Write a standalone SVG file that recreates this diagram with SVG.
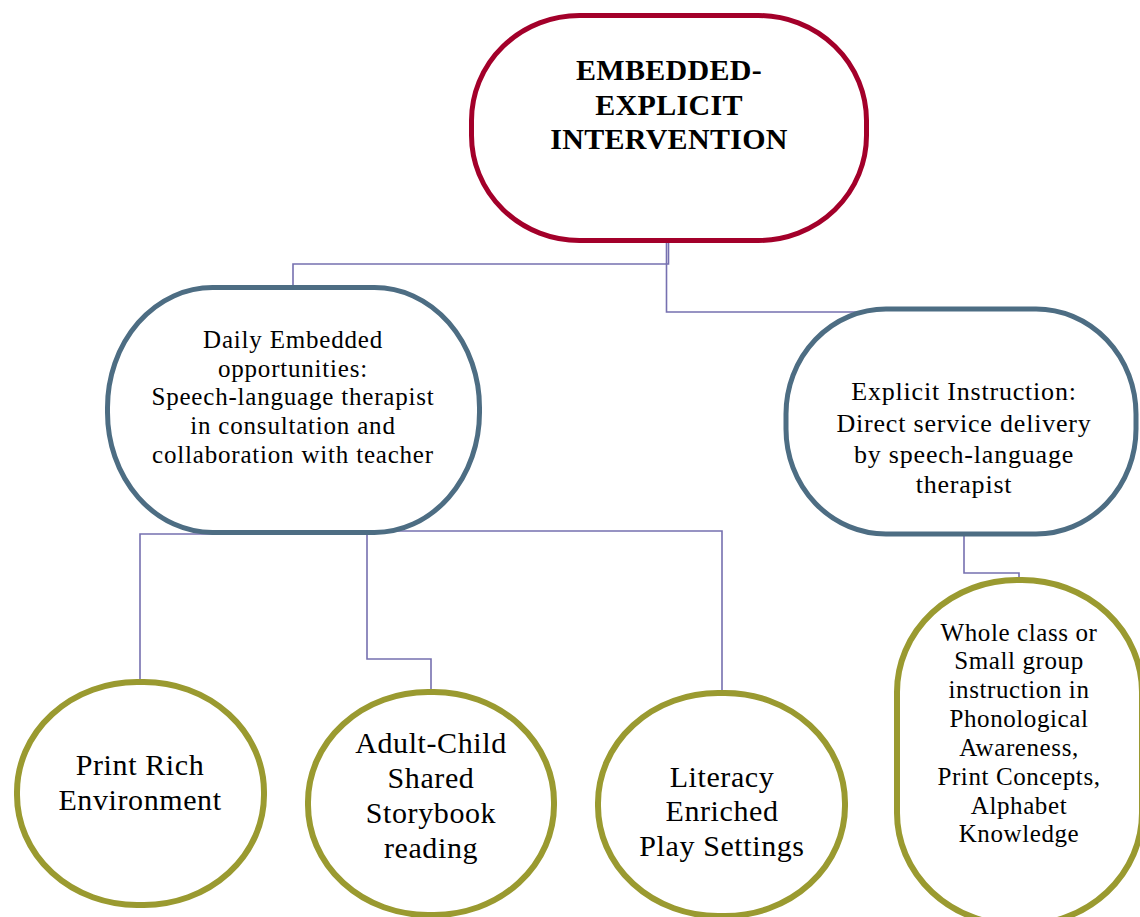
<svg xmlns="http://www.w3.org/2000/svg" width="1140" height="917" viewBox="0 0 1140 917">
  <style>
    .conn { fill: none; stroke: #7670B0; stroke-width: 1.6; }
    .root { fill: #ffffff; stroke: #A3002A; stroke-width: 5; }
    .mid { fill: #ffffff; stroke: #4D6D83; stroke-width: 5; }
    .leaf { fill: #ffffff; stroke: #9A9A30; stroke-width: 6; }
    text { font-family: "Liberation Serif", "Times New Roman", serif; fill: #000000; text-anchor: middle; }
    .title { font-weight: bold; font-size: 30px; letter-spacing: 0.3px; }
    .t25 { font-size: 25px; letter-spacing: 0.8px; }
    .t26 { font-size: 26px; letter-spacing: 0.8px; }
    .t30 { font-size: 30px; letter-spacing: 0.6px; }
    .t25b { font-size: 25px; letter-spacing: 0.6px; }
  </style>
  <rect width="1140" height="917" fill="#ffffff"/>

  <!-- elbow connectors, drawn beneath the nodes -->
  <g id="connectors">
    <path class="conn" d="M668.5,240 V264 H293 V288"/>
    <path class="conn" d="M666.5,240 V312 H978 V307"/>
    <path class="conn" d="M140,684 V534 H260"/>
    <path class="conn" d="M367,532 V659 H431 V692"/>
    <path class="conn" d="M367,531 H722 V692"/>
    <path class="conn" d="M964,534 V573 H1019 V580"/>
  </g>

  <g id="node-root">
    <rect class="root" x="471.5" y="15.5" width="395" height="225" rx="108" ry="105"/>
    <text class="title" x="669" y="80">EMBEDDED-</text>
    <text class="title" x="669" y="115">EXPLICIT</text>
    <text class="title" x="669" y="149">INTERVENTION</text>
  </g>

  <g id="node-embedded">
    <rect class="mid" x="107.5" y="287.5" width="372" height="245" rx="105" ry="120"/>
    <text class="t25" x="293" y="348">Daily Embedded</text>
    <text class="t25" x="293" y="377">opportunities:</text>
    <text class="t25" x="293" y="405">Speech-language therapist</text>
    <text class="t25" x="293" y="434">in consultation and</text>
    <text class="t25" x="293" y="463">collaboration with teacher</text>
  </g>

  <g id="node-explicit">
    <rect class="mid" x="786" y="309" width="350" height="225" rx="100" ry="105"/>
    <text class="t26" x="964" y="400">Explicit Instruction:</text>
    <text class="t26" x="964" y="432">Direct service delivery</text>
    <text class="t26" x="964" y="463">by speech-language</text>
    <text class="t26" x="964" y="493">therapist</text>
  </g>

  <g id="node-print-rich">
    <rect class="leaf" x="17" y="682" width="247" height="223" rx="120" ry="110"/>
    <text class="t30" x="140" y="775">Print Rich</text>
    <text class="t30" x="140" y="810">Environment</text>
  </g>

  <g id="node-storybook">
    <rect class="leaf" x="308" y="692" width="246" height="223" rx="120" ry="110"/>
    <text class="t30" x="431" y="753">Adult-Child</text>
    <text class="t30" x="431" y="788">Shared</text>
    <text class="t30" x="431" y="823">Storybook</text>
    <text class="t30" x="431" y="858">reading</text>
  </g>

  <g id="node-play">
    <rect class="leaf" x="598" y="693" width="247" height="223" rx="120" ry="110"/>
    <text class="t30" x="722" y="787">Literacy</text>
    <text class="t30" x="722" y="821">Enriched</text>
    <text class="t30" x="722" y="856">Play Settings</text>
  </g>

  <g id="node-instruction">
    <rect class="leaf" x="897" y="580" width="245" height="345" rx="120" ry="112"/>
    <text class="t25b" x="1019" y="641">Whole class or</text>
    <text class="t25b" x="1019" y="669">Small group</text>
    <text class="t25b" x="1019" y="698">instruction in</text>
    <text class="t25b" x="1019" y="727">Phonological</text>
    <text class="t25b" x="1019" y="756">Awareness,</text>
    <text class="t25b" x="1019" y="785">Print Concepts,</text>
    <text class="t25b" x="1019" y="814">Alphabet</text>
    <text class="t25b" x="1019" y="842">Knowledge</text>
  </g>
</svg>
